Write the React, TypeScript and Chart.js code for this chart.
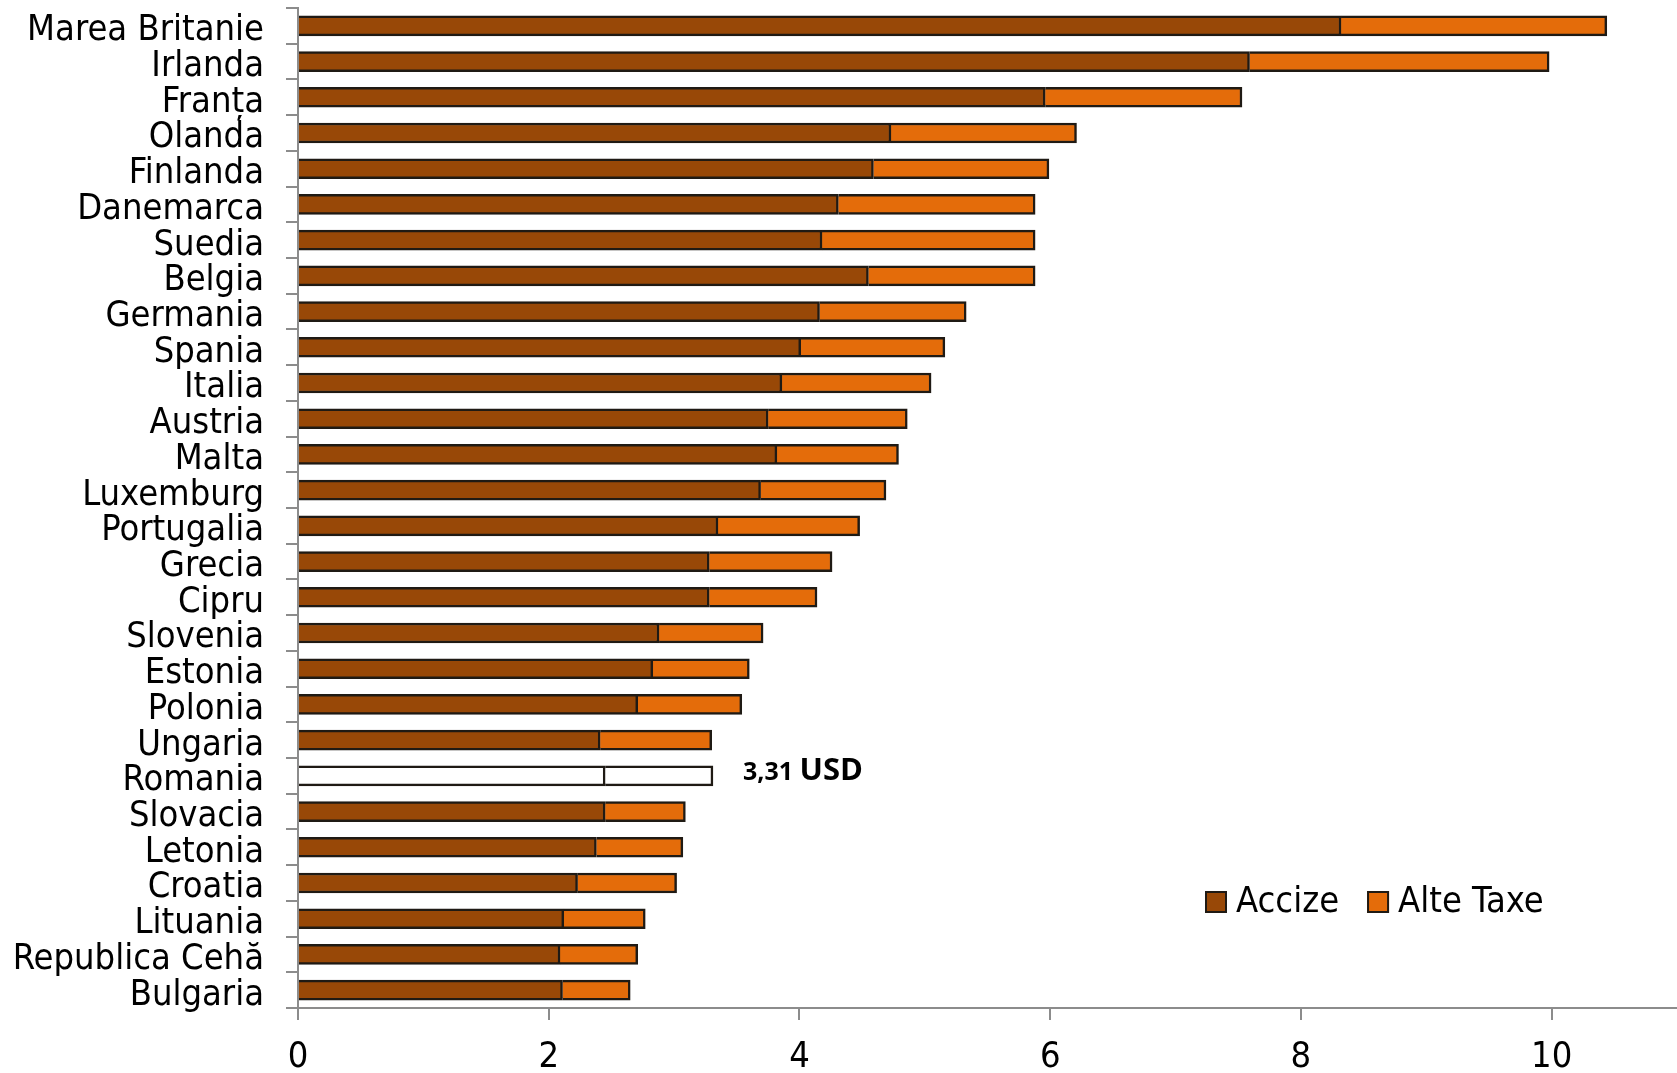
import React, { useEffect, useRef } from "react";
import { Chart, registerables } from "chart.js";

Chart.register(...registerables);

const categories = [
  "Marea Britanie", "Irlanda", "Franța", "Olanda", "Finlanda", "Danemarca", "Suedia",
  "Belgia", "Germania", "Spania", "Italia", "Austria", "Malta", "Luxemburg",
  "Portugalia", "Grecia", "Cipru", "Slovenia", "Estonia", "Polonia", "Ungaria",
  "Romania", "Slovacia", "Letonia", "Croatia", "Lituania", "Republica Cehă", "Bulgaria",
];

const accize = [
  8.32, 7.59, 5.96, 4.73, 4.59, 4.31, 4.18, 4.55, 4.16, 4.01, 3.86, 3.75, 3.82, 3.69,
  3.35, 3.28, 3.28, 2.88, 2.83, 2.71, 2.41, 2.45, 2.45, 2.38, 2.23, 2.12, 2.09, 2.11,
];

const alteTaxe = [
  2.12, 2.39, 1.57, 1.48, 1.40, 1.57, 1.70, 1.33, 1.17, 1.15, 1.19, 1.11, 0.97, 1.00,
  1.13, 0.98, 0.86, 0.83, 0.77, 0.83, 0.89, 0.86, 0.64, 0.69, 0.79, 0.65, 0.62, 0.54,
];

const seriesNames = ["Accize", "Alte Taxe"];
const highlight = "Romania";
const highlightLabel = ["3,31", "USD"];
const xTicks = [0, 2, 4, 6, 8, 10];

const BROWN = "#984807";
const ORANGE = "#E46C0A";
const EDGE = "#1F1A14";
const AXIS = "#8C8C8C";
const FONT = "'DejaVu Sans Condensed', 'DejaVu Sans', sans-serif";

export default function App() {
  const ref = useRef<HTMLCanvasElement | null>(null);

  useEffect(() => {
    if (!ref.current) return;
    const hi = categories.indexOf(highlight);

    const overlay = {
      id: "overlay",
      afterDraw(chart: any) {
        const ctx = chart.ctx;
        const xs = chart.scales.x;
        const ys = chart.scales.y;
        // annotation
        const total = accize[hi] + alteTaxe[hi];
        const ax = xs.getPixelForValue(total) + 30;
        const ay = ys.getPixelForValue(hi) + 4;
        ctx.save();
        ctx.fillStyle = "#000";
        ctx.textBaseline = "alphabetic";
        ctx.textAlign = "left";
        ctx.font = "bold 25px 'Open Sans', 'DejaVu Sans', sans-serif";
        ctx.fillText(highlightLabel[0], ax, ay);
        const w = ctx.measureText(highlightLabel[0] + " ").width;
        ctx.font = "bold 31px 'Open Sans', 'DejaVu Sans', sans-serif";
        ctx.fillText(highlightLabel[1], ax + w, ay);

        // legend
        const colors = [BROWN, ORANGE];
        let lx = chart.chartArea.left + 907;
        const ly = 902;
        ctx.font = "36px " + FONT;
        ctx.textBaseline = "middle";
        seriesNames.forEach((name, i) => {
          ctx.fillStyle = colors[i];
          ctx.fillRect(lx, ly - 11, 22, 22);
          ctx.strokeStyle = EDGE;
          ctx.lineWidth = 2;
          ctx.strokeRect(lx + 1, ly - 10, 20, 20);
          ctx.fillStyle = "#000";
          ctx.fillText(name, lx + 31, ly + 1);
          lx += 31 + ctx.measureText(name).width + 28;
        });
        ctx.restore();
      },
    };

    const chart = new Chart(ref.current, {
      type: "bar",
      data: {
        labels: categories,
        datasets: [
          {
            label: seriesNames[0],
            data: accize,
            backgroundColor: categories.map((c) => (c === highlight ? "#FFFFFF" : BROWN)),
            borderColor: EDGE,
            borderWidth: 2.5,
            barThickness: 20,
          },
          {
            label: seriesNames[1],
            data: alteTaxe,
            backgroundColor: categories.map((c) => (c === highlight ? "#FFFFFF" : ORANGE)),
            borderColor: EDGE,
            borderWidth: 2.5,
            barThickness: 20,
          },
        ],
      },
      options: {
        indexAxis: "y",
        animation: false,
        responsive: true,
        maintainAspectRatio: false,
        layout: { padding: { top: 8, left: 0, right: 0, bottom: 0 } },
        plugins: {
          legend: { display: false },
          tooltip: { enabled: false },
        },
        scales: {
          x: {
            stacked: true,
            min: 0,
            max: 11,
            afterFit(scale: any) {
              scale.height = 65;
              scale.paddingLeft = 0;
              scale.paddingRight = 0;
            },
            afterBuildTicks(scale: any) {
              scale.ticks = xTicks.map((v) => ({ value: v }));
            },
            ticks: {
              font: { family: FONT, size: 36 },
              color: "#000",
              padding: 16,
            },
            grid: {
              drawOnChartArea: false,
              drawTicks: true,
              tickLength: 12,
              color: AXIS,
              lineWidth: 2,
            },
            border: { color: AXIS, width: 2 },
          },
          y: {
            stacked: true,
            afterFit(scale: any) {
              scale.width = 298;
              scale.paddingTop = 0;
              scale.paddingBottom = 0;
            },
            ticks: {
              font: { family: FONT, size: 36 },
              color: "#000",
              padding: 22,
              labelOffset: 5,
              autoSkip: false,
            },
            grid: {
              offset: true,
              drawOnChartArea: false,
              drawTicks: true,
              tickLength: 12,
              color: AXIS,
              lineWidth: 2,
            },
            border: { color: AXIS, width: 2 },
          },
        },
      },
      plugins: [overlay],
    });
    return () => chart.destroy();
  }, []);

  return (
    <div style={{ position: "absolute", left: 0, top: 0, width: 1677, height: 1073, background: "#fff" }}>
      <canvas ref={ref} />
    </div>
  );
}
